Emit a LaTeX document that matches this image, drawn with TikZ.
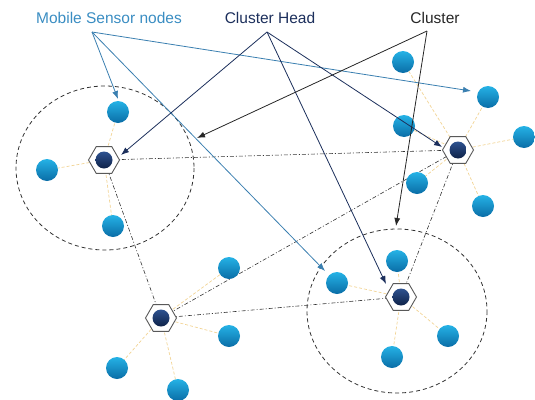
\documentclass[tikz,border=0pt]{standalone}
\usepackage{fontspec}
\setmainfont{Liberation Sans}
\usetikzlibrary{arrows.meta,shapes.geometric}

\definecolor{sensortop}{HTML}{25B2E6}
\definecolor{sensorbot}{HTML}{0A6DA6}
\definecolor{headtop}{HTML}{2E5290}
\definecolor{headbot}{HTML}{0E2248}
\definecolor{labelblue}{HTML}{3A8DC2}
\definecolor{arrowblue}{HTML}{3A7FB0}
\definecolor{navy}{HTML}{1C2F5C}
\definecolor{linkyellow}{HTML}{F2D495}

\tikzset{
  sensor/.style={circle, minimum size=22pt, inner sep=0pt,
    top color=sensortop, bottom color=sensorbot, draw=none},
  hexa/.style={regular polygon, regular polygon sides=6, minimum size=31pt,
    inner sep=0pt, draw=black!65, line width=0.9pt, fill=white},
  headcore/.style={circle, minimum size=17pt, inner sep=0pt,
    top color=headtop, bottom color=headbot},
  member/.style={draw=linkyellow, line width=0.7pt, dash pattern=on 3pt off 2pt},
  backbone/.style={draw=black!80, line width=0.6pt, dash pattern=on 4pt off 2pt on 1pt off 2pt},
  zone/.style={draw=black!80, line width=0.8pt, dash pattern=on 4pt off 3pt},
  tag/.style={font=\fontsize{15.5}{18}\selectfont, inner sep=1pt},
  pointer/.style={line width=0.8pt, -{Latex[length=8pt,width=6pt]}},
}

\begin{document}
\begin{tikzpicture}[x=1pt,y=-1pt]
\useasboundingbox (0,0) rectangle (535,399);

% cluster boundaries
\draw[zone] (105,168) ellipse [x radius=89, y radius=82];
\draw[zone] (397,311) ellipse [x radius=90, y radius=82];

% cluster-head positions
\coordinate (h1) at (104,160);
\coordinate (h2) at (458,150);
\coordinate (h3) at (161,318);
\coordinate (h4) at (401,297);

% sensor positions
\coordinate (a1) at (118,112);
\coordinate (a2) at (47,170);
\coordinate (a3) at (113,226);
\coordinate (b1) at (403,62);
\coordinate (b2) at (488,97);
\coordinate (b3) at (404,126);
\coordinate (b4) at (524,137);
\coordinate (b5) at (417,183);
\coordinate (b6) at (483,206);
\coordinate (c1) at (229,268);
\coordinate (c2) at (229,336);
\coordinate (c3) at (117,368);
\coordinate (c4) at (178,390);
\coordinate (d1) at (397,261);
\coordinate (d2) at (337,283);
\coordinate (d3) at (448,336);
\coordinate (d4) at (392,357);

% links between cluster heads
\draw[backbone] (h1) -- (h2);
\draw[backbone] (h1) -- (h3);
\draw[backbone] (h3) -- (h2);
\draw[backbone] (h3) -- (h4);
\draw[backbone] (h2) -- (h4);

% links from members to their head
\foreach \s in {a1,a2,a3} \draw[member] (h1) -- (\s);
\foreach \s in {b1,b2,b3,b4,b5,b6} \draw[member] (h2) -- (\s);
\foreach \s in {c1,c2,c3,c4} \draw[member] (h3) -- (\s);
\foreach \s in {d1,d2,d3,d4} \draw[member] (h4) -- (\s);

% sensor nodes
\foreach \s in {a1,a2,a3,b1,b2,b3,b4,b5,b6,c1,c2,c3,c4,d1,d2,d3,d4}
  \node[sensor] (n\s) at (\s) {};

% cluster heads
\foreach \h in {h1,h2,h3,h4} {
  \node[hexa] (x\h) at (\h) {};
  \node[headcore] (k\h) at (\h) {};
}

% captions
\node[tag, text=labelblue] (lsensor) at (109,18) {Mobile Sensor nodes};
\node[tag, text=navy] (lhead) at (270,18) {Cluster Head};
\node[tag, text=black!85] (lcluster) at (435,18) {Cluster};

\coordinate (osensor) at (92,32);
\coordinate (ohead) at (267,32);
\coordinate (ocluster) at (427,31);

% arrow tips
\coordinate (ta1) at (118,99);
\coordinate (tb2) at (471,91);
\coordinate (td2) at (325,271);
\coordinate (th1) at (121,155);
\coordinate (th2) at (442,147);
\coordinate (th4) at (386,284);
\coordinate (tz1) at (197,138);
\coordinate (tz2) at (396,226);

\draw[pointer, arrowblue] (osensor) -- (ta1);
\draw[pointer, arrowblue] (osensor) -- (tb2);
\draw[pointer, arrowblue] (osensor) -- (td2);
\draw[pointer, navy] (ohead) -- (th1);
\draw[pointer, navy] (ohead) -- (th2);
\draw[pointer, navy] (ohead) -- (th4);
\draw[pointer, black!85] (ocluster) -- (tz1);
\draw[pointer, black!85] (ocluster) -- (tz2);
\end{tikzpicture}
\end{document}
